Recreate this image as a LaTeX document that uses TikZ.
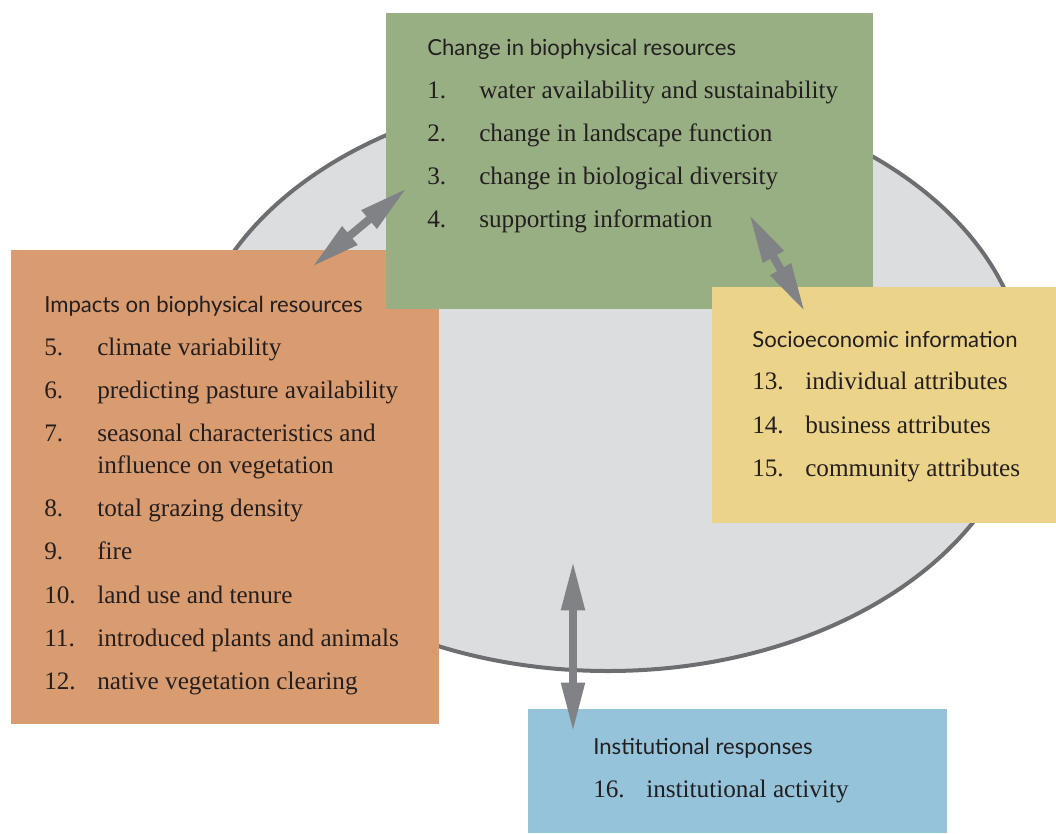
\documentclass[tikz,border=0pt]{standalone}
\usepackage{fontspec}
\setmainfont{Liberation Serif}
\newfontfamily\headfont{Lato}
\usetikzlibrary{arrows.meta}

\definecolor{discgray}{RGB}{220,221,223}
\definecolor{rimgray}{RGB}{109,110,113}
\definecolor{linkgray}{RGB}{128,130,133}
\definecolor{greenbox}{RGB}{152,174,131}
\definecolor{orangebox}{RGB}{217,155,112}
\definecolor{yellowbox}{RGB}{236,211,138}
\definecolor{bluebox}{RGB}{148,195,218}
\definecolor{inkdark}{RGB}{35,31,32}

\begin{document}
\begin{tikzpicture}[x=0.75pt,y=-0.75pt,
  head/.style={anchor=base west, inner sep=0pt, text=inkdark, font=\headfont\fontsize{16.6}{19}\selectfont},
  item/.style={anchor=base west, inner sep=0pt, text=inkdark, font=\fontsize{18.9}{24}\selectfont},
  link/.style={line width=6pt, draw=linkgray,
    {Triangle[length=37pt,width=16.5pt]}-{Triangle[length=37pt,width=16.5pt]}}]
  \useasboundingbox (0,0) rectangle (1056,833);

  % the disc behind everything
  \draw[line width=3pt, draw=rimgray, fill=discgray] (608,381) ellipse [x radius=418, y radius=290];

  % coloured panels
  \fill[orangebox] (11,250) rectangle (439,724);
  \fill[greenbox] (386,13) rectangle (873,309);
  \fill[yellowbox] (712,287) rectangle (1056,523);
  \fill[bluebox] (528,709) rectangle (947,833);

  % Change in biophysical resources
  \node[head] (ghead) at (427,55) {Change in biophysical resources};
  \foreach \n/\t/\y in {1/water availability and sustainability/98,
                        2/change in landscape function/141,
                        3/change in biological diversity/184,
                        4/supporting information/227} {
    \node[item] (gnum\n) at (427,\y) {\n.};
    \node[item] (gtext\n) at (479,\y) {\t};
  }

  % Impacts on biophysical resources
  \node[head] (ohead) at (44,312) {Impacts on biophysical resources};
  \foreach \n/\t/\y in {5/climate variability/355,
                        6/predicting pasture availability/398,
                        7/seasonal characteristics and/441,
                        8/total grazing density/516,
                        9/fire/559,
                        10/land use and tenure/603,
                        11/introduced plants and animals/646,
                        12/native vegetation clearing/689} {
    \node[item] (onum\n) at (44,\y) {\n.};
    \node[item] (otext\n) at (97,\y) {\t};
  }
  \node[item] (otext7b) at (97,473) {influence on vegetation};

  % Socioeconomic information
  \node[head] (yhead) at (752,347) {Socioeconomic information};
  \foreach \n/\t/\y in {13/individual attributes/389,
                        14/business attributes/433,
                        15/community attributes/476} {
    \node[item] (ynum\n) at (752,\y) {\n.};
    \node[item] (ytext\n) at (805,\y) {\t};
  }

  % Institutional responses
  \node[head] (bhead) at (593,754) {Institutional responses};
  \node[item] (bnum16) at (593,797) {16.};
  \node[item] (btext16) at (646,797) {institutional activity};

  % arrow ends
  \coordinate (oend) at (312,267);
  \coordinate (gend) at (407,188);
  \coordinate (gend2) at (749,214);
  \coordinate (yend) at (805,312);
  \coordinate (discend) at (573,561);
  \coordinate (bend) at (573,732);

  % double arrows
  \draw[link] (oend) -- (gend);
  \draw[link] (gend2) -- (yend);
  \draw[link] (discend) -- (bend);
\end{tikzpicture}
\end{document}
